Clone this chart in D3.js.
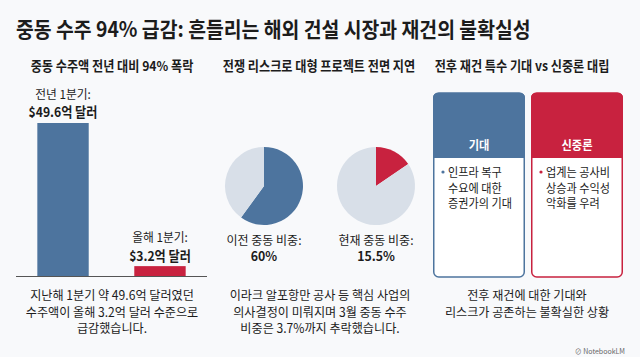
<!DOCTYPE html>
<html><head><meta charset="utf-8">
<script src="https://cdn.jsdelivr.net/npm/d3@7"></script>
<style>
html,body{margin:0;padding:0;background:#f8f9fb;}
svg{display:block;font-family:"Noto Sans CJK KR","Noto Sans",sans-serif;}
</style></head>
<body>
<script>
const title = "중동 수주 94% 급감: 흔들리는 해외 건설 시장과 재건의 불확실성";
const subtitles = ["중동 수주액 전년 대비 94% 폭락", "전쟁 리스크로 대형 프로젝트 전면 지연", "전후 재건 특수 기대 vs 신중론 대립"];
const barCategories = ["전년 1분기:", "올해 1분기:"];
const barValues = [49.6, 3.2];
const barValueLabels = ["$49.6억 달러", "$3.2억 달러"];
const pieLabels = ["이전 중동 비중:", "현재 중동 비중:"];
const pieShares = [60, 15.5];
const pieValueLabels = ["60%", "15.5%"];
const cardTitles = ["기대", "신중론"];
const cardTexts = [["인프라 복구", "수요에 대한", "증권가의 기대"], ["업계는 공사비", "상승과 수익성", "악화를 우려"]];
const captions = [
  ["지난해 1분기 약 49.6억 달러였던", "수주액이 올해 3.2억 달러 수준으로", "급감했습니다."],
  ["이라크 알포항만 공사 등 핵심 사업의", "의사결정이 미뤄지며 3월 중동 수주", "비중은 3.7%까지 추락했습니다."],
  ["전후 재건에 대한 기대와", "리스크가 공존하는 불확실한 상황"]
];

const BLUE = "#4d749e", RED = "#c8223f", GREY = "#d8dfe8", INK = "#1c1c1c";
const W = 640, H = 357;
const svg = d3.select("body").append("svg").attr("width", W).attr("height", H);
svg.append("rect").attr("width", W).attr("height", H).attr("fill", "#f8f9fb");

// horizontal squeeze to mimic the narrower typeface of the reference
function squeeze(sel, sx) {
  sel.attr("transform", function () {
    const t = d3.select(this);
    const x0 = +t.attr("x") || 0, y0 = +t.attr("y") || 0;
    return `translate(${x0},${y0}) scale(${sx},1) translate(${-x0},${-y0})`;
  });
}

svg.append("text").attr("x", 16).attr("y", 37).attr("font-size", 21).attr("font-weight", 700)
  .attr("fill", INK).text(title).call(squeeze, 0.922);

const colX = [112, 319, 522];
svg.selectAll("text.sub").data(subtitles).join("text").attr("class", "sub")
  .attr("x", (d, i) => colX[i]).attr("y", 71).attr("text-anchor", "middle")
  .attr("font-size", 13.5).attr("font-weight", 700).attr("fill", INK).text(d => d).call(squeeze, 0.9);

// Bar chart
const x = d3.scaleBand().domain(barCategories).range([16, 207]).paddingInner(0.47).paddingOuter(0.22);
const y = d3.scaleLinear().domain([0, d3.max(barValues)]).range([276, 123]);
const colors = [BLUE, RED];
const bars = svg.append("g");
bars.selectAll("rect").data(barValues).join("rect")
  .attr("x", (d, i) => x(barCategories[i])).attr("width", x.bandwidth())
  .attr("y", d => y(d)).attr("height", d => y(0) - y(d)).attr("fill", (d, i) => colors[i]);
bars.append("line").attr("x1", 16).attr("x2", 207).attr("y1", y(0) + 0.5).attr("y2", y(0) + 0.5)
  .attr("stroke", "#555").attr("stroke-width", 1);
barValues.forEach((v, i) => {
  const cx = x(barCategories[i]) + x.bandwidth() / 2;
  bars.append("text").attr("x", cx).attr("y", y(v) - 24).attr("text-anchor", "middle")
    .attr("font-size", 12).attr("fill", INK).text(barCategories[i]).call(squeeze, 0.98);
  bars.append("text").attr("x", cx).attr("y", y(v) - 5.5).attr("text-anchor", "middle")
    .attr("font-size", 13.5).attr("font-weight", 700).attr("fill", INK).text(barValueLabels[i]).call(squeeze, 0.9);
});

// Pies
const pieCx = [264, 376], pieCy = 186, r = 39;
const arc = d3.arc().innerRadius(0).outerRadius(r);
const pie = d3.pie().sort(null).value(d => d);
pieShares.forEach((s, i) => {
  const g = svg.append("g").attr("transform", `translate(${pieCx[i]},${pieCy})`);
  g.selectAll("path").data(pie([s, 100 - s])).join("path").attr("d", arc)
    .attr("fill", (d, j) => j === 0 ? colors[i] : GREY);
  g.append("text").attr("x", 0).attr("y", 58.5).attr("text-anchor", "middle").attr("font-size", 12)
    .attr("fill", INK).text(pieLabels[i]).call(squeeze, 1);
  g.append("text").attr("x", 0).attr("y", 75.5).attr("text-anchor", "middle").attr("font-size", 13)
    .attr("font-weight", 700).attr("fill", INK).text(pieValueLabels[i]).call(squeeze, 0.95);
});

// Cards
const cardX = [433, 531], cardW = 92, cardTop = 93, cardBot = 277, headBot = 158;
cardTitles.forEach((t, i) => {
  const g = svg.append("g").attr("transform", `translate(${cardX[i]},0)`);
  g.append("rect").attr("x", 0.75).attr("y", cardTop).attr("width", cardW - 1.5).attr("height", cardBot - cardTop)
    .attr("rx", 5).attr("fill", "#fff").attr("stroke", colors[i]).attr("stroke-width", 1.5);
  g.append("path").attr("d", `M0,${headBot} V${cardTop + 5} Q0,${cardTop} 5,${cardTop} H${cardW - 5} Q${cardW},${cardTop} ${cardW},${cardTop + 5} V${headBot} Z`)
    .attr("fill", colors[i]);
  g.append("text").attr("x", cardW / 2).attr("y", 150).attr("text-anchor", "middle")
    .attr("font-size", 12.5).attr("font-weight", 700).attr("fill", "#fff").text(t).call(squeeze, 0.9);
  g.append("circle").attr("cx", 10).attr("cy", 172).attr("r", 1.6).attr("fill", colors[i]);
  g.selectAll("text.ln").data(cardTexts[i]).join("text").attr("class", "ln")
    .attr("x", 15).attr("y", (d, j) => 177.5 + j * 15.2).attr("font-size", 12)
    .attr("fill", INK).text(d => d).call(squeeze, 0.93);
});

// Captions
captions.forEach((lines, i) => {
  svg.append("g").selectAll("text").data(lines).join("text")
    .attr("x", [112, 320, 527][i]).attr("y", (d, j) => 300.5 + j * 16.5)
    .attr("text-anchor", "middle").attr("font-size", 12.5).attr("fill", INK).text(d => d).call(squeeze, 0.97);
});

svg.append("text").attr("x", 625).attr("y", 354).attr("text-anchor", "end")
  .attr("font-size", 7).attr("fill", "#666").text("⊘ NotebookLM");
</script>
</body></html>
